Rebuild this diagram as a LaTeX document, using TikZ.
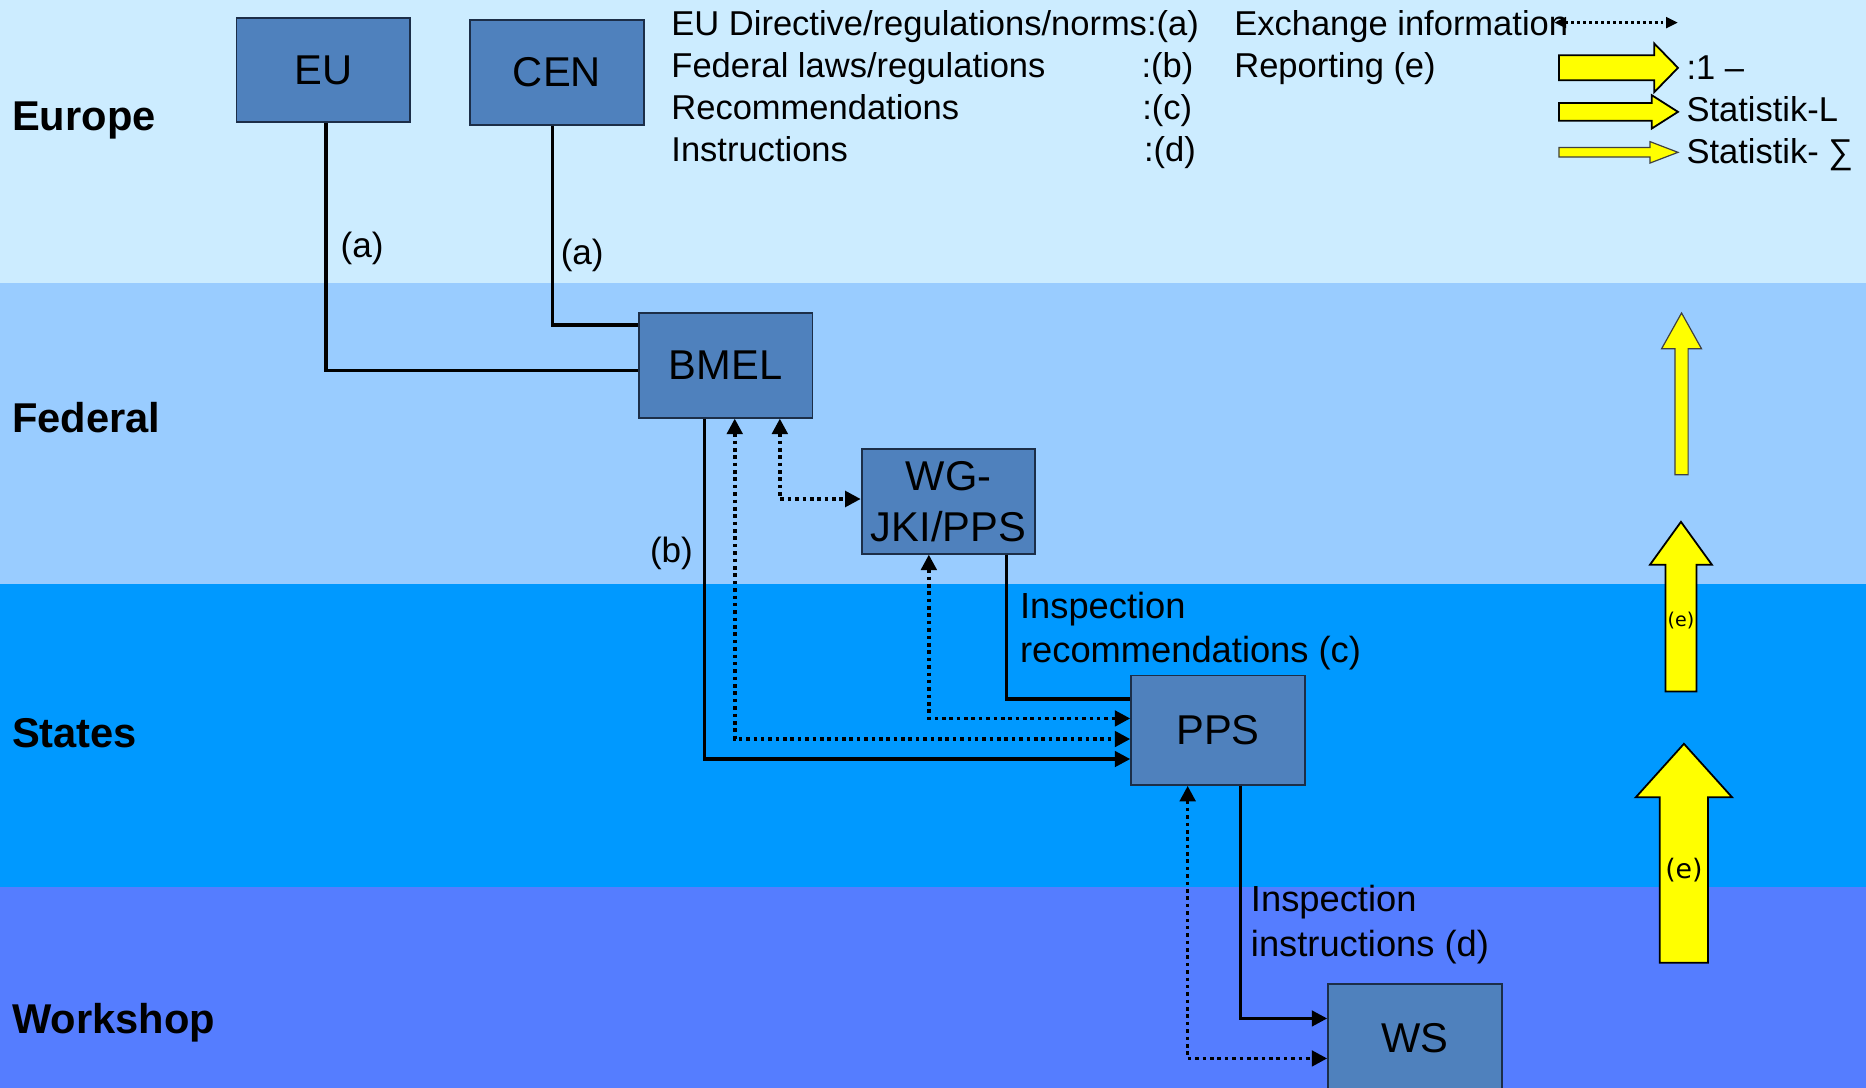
\documentclass[tikz,border=0pt]{standalone}
\usepackage{fontspec}
\setmainfont{Liberation Sans}
\newfontfamily\dejavu{DejaVu Sans}
\usetikzlibrary{arrows.meta,calc}
\definecolor{bandeu}{HTML}{CCECFF}
\definecolor{bandfed}{HTML}{99CCFF}
\definecolor{bandst}{HTML}{0099FF}
\definecolor{bandws}{HTML}{557DFF}
\definecolor{boxfill}{HTML}{4F81BD}
\definecolor{boxline}{HTML}{1C2E48}
\definecolor{yel}{HTML}{FFFF00}
\begin{document}
\begin{tikzpicture}[x=1pt,y=-1pt,
  orgbox/.style={draw=boxline, line width=1.5pt, fill=boxfill, minimum width=146pt,
    minimum height=88pt, inner sep=0pt, font=\fontsize{35}{43}\selectfont, align=center},
  bandlbl/.style={inner sep=0pt, anchor=base west, font=\bfseries\fontsize{35}{42}\selectfont},
  legtxt/.style={inner sep=0pt, anchor=base west, font=\fontsize{29}{35}\selectfont},
  lbl/.style={inner sep=0pt, anchor=base west, font=\fontsize{30.5}{38}\selectfont},
  link/.style={line width=2.8pt, draw=black},
  dots/.style={line width=3pt, draw=black, dash pattern=on 3pt off 3.2pt},
  legdots/.style={line width=2.4pt, draw=black, dash pattern=on 2.4pt off 2.6pt},
  arr/.style={-{Triangle[length=13pt,width=13pt]}},
  darr/.style={{Triangle[length=13pt,width=13pt]}-{Triangle[length=13pt,width=13pt]}},
  sdarr/.style={{Triangle[length=10pt,width=9pt]}-{Triangle[length=10pt,width=9pt]}},
  yarrow/.style={fill=yel, draw=black, line width=1.5pt, line join=miter}
]
\useasboundingbox (0,0) rectangle (1568,914);
\clip (0,0) rectangle (1568,914);

% bands
\fill[bandeu] (0,0) rectangle (1568,237.6);
\fill[bandfed] (0,237.6) rectangle (1568,491);
\fill[bandst] (0,491) rectangle (1568,745.7);
\fill[bandws] (0,745.7) rectangle (1568,914);

% level labels
\node[bandlbl] (lEurope) at (10,110) {Europe};
\node[bandlbl] (lFederal) at (10,363) {Federal};
\node[bandlbl] (lStates) at (10,628.5) {States};
\node[bandlbl] (lWorkshop) at (10,868.5) {Workshop};

% helper coordinates
\coordinate (v274) at (274,0);
\coordinate (v464) at (464.5,0);
\coordinate (v592) at (592,0);
\coordinate (v617) at (617.4,0);
\coordinate (v655) at (655.3,0);
\coordinate (v781) at (780.5,0);
\coordinate (v846) at (846,0);
\coordinate (v998) at (998,0);
\coordinate (v1042) at (1042.5,0);
\coordinate (h273) at (0,273);
\coordinate (h311) at (0,311.4);
\coordinate (h419) at (0,419.3);
\coordinate (h587) at (0,587.4);
\coordinate (h604) at (0,603.7);
\coordinate (h621) at (0,621);
\coordinate (h638) at (0,637.8);
\coordinate (h856) at (0,855.8);
\coordinate (h889) at (0,889.4);

% boxes
\node[orgbox] (EU) at (271.75,58.8) {EU};
\node[orgbox] (CEN) at (468,61) {CEN};
\node[orgbox] (BMEL) at (609.75,307) {BMEL};
\node[orgbox] (WG) at (797,421.3) {WG-\\JKI/PPS};
\node[orgbox, minimum height=92pt] (PPS) at (1023.5,613.6) {PPS};
\node[orgbox, minimum height=90pt] (WS) at (1189,872) {WS};

% connectors
\draw[link] (EU.south -| v274) |- (BMEL.west |- h311);
\draw[link] (CEN.south -| v464) |- (BMEL.west |- h273);
\draw[link,arr] (BMEL.south -| v592) |- (PPS.west |- h638);
\draw[dots,darr] (BMEL.south -| v617) |- (PPS.west |- h621);
\draw[dots,darr] (BMEL.south -| v655) |- (WG.west |- h419);
\draw[dots,darr] (WG.south -| v781) |- (PPS.west |- h604);
\draw[link] (WG.south -| v846) |- (PPS.west |- h587);
\draw[link,arr] (PPS.south -| v1042) |- (WS.west |- h856);
\draw[dots,darr] (PPS.south -| v998) |- (WS.west |- h889);

% connector labels
\node[lbl, font=\fontsize{29.5}{36}\selectfont] (la1) at (286,216) {(a)};
\node[lbl, font=\fontsize{29.5}{36}\selectfont] (la2) at (471,222) {(a)};
\node[lbl, font=\fontsize{29.5}{36}\selectfont] (lb) at (546,472.8) {(b)};
\node[lbl] (lc1) at (857,519.6) {Inspection};
\node[lbl] (lc2) at (857,557) {recommendations (c)};
\node[lbl] (ld1) at (1051,766) {Inspection};
\node[lbl] (ld2) at (1051,804) {instructions (d)};

% legend left
\node[legtxt] (l1) at (564,30) {EU Directive/regulations/norms:(a)};
\node[legtxt] (l2) at (564,65.5) {Federal laws/regulations};
\node[legtxt, anchor=base east] (l2b) at (1003,65.5) {:(b)};
\node[legtxt] (l3) at (564,100.5) {Recommendations};
\node[legtxt, anchor=base east] (l3b) at (1002,100.5) {:(c)};
\node[legtxt] (l4) at (564,136) {Instructions};
\node[legtxt, anchor=base east] (l4b) at (1005,136) {:(d)};

% legend right
\node[legtxt] (l5) at (1037,30) {Exchange information};
\node[legtxt] (l6) at (1037,65.5) {Reporting (e)};
\coordinate (ex1) at (1306,19);
\coordinate (ex2) at (1410,19);
\draw[legdots,sdarr] (ex1) -- (ex2);
\node[legtxt] (l7) at (1417,67) {:1 –};
\node[legtxt] (l8) at (1417,102.5) {Statistik-L};
\node[legtxt] (l9) at (1417,137.5) {Statistik- ∑};

% legend yellow arrows
\draw[yarrow] (1310,46.5) -- (1390,46.5) -- (1390,36.5) -- (1410,57) -- (1390,77.5) -- (1390,67.5) -- (1310,67.5) -- cycle;
\draw[yarrow] (1310,86.5) -- (1388,86.5) -- (1388,80) -- (1410,94) -- (1388,108) -- (1388,101.5) -- (1310,101.5) -- cycle;
\draw[yarrow, line width=1pt, draw=black!75] (1310,124) -- (1386.5,124) -- (1386.5,119) -- (1410,128) -- (1386.5,137) -- (1386.5,132) -- (1310,132) -- cycle;

% reporting arrows
\draw[yarrow, line width=1pt, draw=black!75] (1407.5,399) -- (1407.5,293) -- (1396.25,293) -- (1413,263) -- (1429.75,293) -- (1418.5,293) -- (1418.5,399) -- cycle;
\draw[yarrow] (1399.5,581) -- (1399.5,474.5) -- (1386.5,474.5) -- (1412.5,438.5) -- (1438.5,474.5) -- (1425.5,474.5) -- (1425.5,581) -- cycle;
\draw[yarrow] (1394.7,809) -- (1394.7,670) -- (1374.5,670) -- (1415,625) -- (1455.5,670) -- (1435.3,670) -- (1435.3,809) -- cycle;
\node[inner sep=0pt, font=\dejavu\fontsize{16}{20}\selectfont] (e1) at (1412.5,521) {(e)};
\node[inner sep=0pt, font=\dejavu\fontsize{22.5}{27}\selectfont] (e2) at (1415,731) {(e)};
\end{tikzpicture}
\end{document}
